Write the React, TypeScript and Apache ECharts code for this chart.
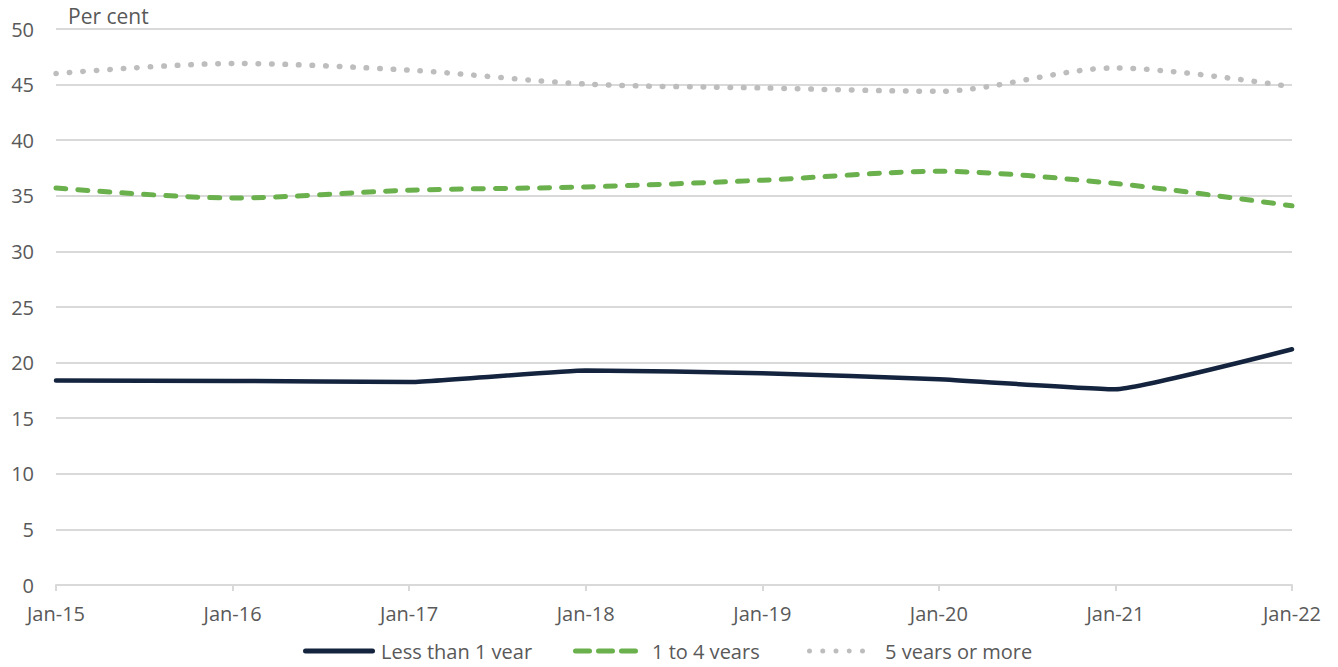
import React, { useEffect, useRef } from "react";
import * as echarts from "echarts";

const categories = ["Jan-15", "Jan-16", "Jan-17", "Jan-18", "Jan-19", "Jan-20", "Jan-21", "Jan-22"];
const lessThan1 = [18.4, 18.35, 18.25, 19.3, 19.05, 18.5, 17.6, 21.2];
const oneTo4 = [35.7, 34.8, 35.5, 35.8, 36.4, 37.2, 36.1, 34.1];
const fivePlus = [46.0, 46.9, 46.3, 45.05, 44.7, 44.4, 46.5, 44.8];
const yTicks = { min: 0, max: 50, interval: 5 };
const seriesNames = ["Less than 1 year", "1 to 4 years", "5 years or more"];

const FONT = "'Open Sans', 'Noto Sans', sans-serif";
const TEXT = "#595959";

const rr = (x0: number, x1: number) =>
  `M${x0 + 2.5},0H${x1 - 2.5}A2.5,2.5,0,0,1,${x1 - 2.5},5H${x0 + 2.5}A2.5,2.5,0,0,1,${x0 + 2.5},0Z`;
const circ = (c: number) => `M${c - 2.5},2.5A2.5,2.5,0,1,0,${c + 2.5},2.5A2.5,2.5,0,1,0,${c - 2.5},2.5Z`;

const iconSolid = "path://" + rr(0, 72);
const iconDash = "path://" + rr(0, 19) + rr(23, 42) + rr(46, 65);
const iconDot = "path://" + [2.5, 15.75, 29, 42.25, 55.5].map(circ).join("");

export default function App() {
  const ref = useRef<HTMLDivElement>(null);
  useEffect(() => {
    if (!ref.current) return;
    const chart = echarts.init(ref.current, undefined, { renderer: "svg" });
    const legendBase = {
      top: 641,
      padding: 0,
      itemHeight: 5,
      itemStyle: { borderWidth: 0 },
      selectedMode: false,
    };
    chart.setOption({
      animation: false,
      textStyle: { fontFamily: FONT },
      grid: { left: 56, right: 46, top: 29, bottom: 82 },
      graphic: [
        {
          type: "text",
          left: 68,
          top: 5,
          style: { text: "Per cent", fontFamily: FONT, fontSize: 21, fill: TEXT },
        },
      ],
      legend: [
        {
          ...legendBase,
          left: 303,
          itemWidth: 72,
          icon: iconSolid,
          data: [seriesNames[0]],
          textStyle: { color: TEXT, fontSize: 20, fontFamily: FONT, padding: [0, 0, 0, 1] },
        },
        {
          ...legendBase,
          left: 573,
          itemWidth: 65,
          icon: iconDash,
          data: [seriesNames[1]],
          textStyle: { color: TEXT, fontSize: 20, fontFamily: FONT, padding: [0, 0, 0, 9] },
        },
        {
          ...legendBase,
          left: 807,
          itemWidth: 58,
          icon: iconDot,
          data: [seriesNames[2]],
          textStyle: { color: TEXT, fontSize: 20, fontFamily: FONT, padding: [0, 0, 0, 15] },
        },
      ],
      xAxis: {
        type: "category",
        data: categories,
        boundaryGap: false,
        axisLine: { lineStyle: { color: "#d9d9d9", width: 2 } },
        axisTick: { show: true, length: 6, lineStyle: { color: "#d9d9d9", width: 2 } },
        axisLabel: { color: TEXT, fontSize: 20, margin: 18, fontFamily: FONT },
        splitLine: { show: false },
      },
      yAxis: {
        type: "value",
        min: yTicks.min,
        max: yTicks.max,
        interval: yTicks.interval,
        axisLine: { show: false },
        axisTick: { show: false },
        axisLabel: { color: TEXT, fontSize: 20, margin: 22, fontFamily: FONT },
        splitLine: { lineStyle: { color: "#d9d9d9", width: 2 } },
      },
      series: [
        {
          name: seriesNames[0],
          type: "line",
          data: lessThan1,
          smooth: 0.12,
          symbol: "none",
          color: "#14243E",
          lineStyle: { color: "#14243E", width: 4.5, cap: "round" },
        },
        {
          name: seriesNames[1],
          type: "line",
          data: oneTo4,
          smooth: 0.3,
          symbol: "none",
          color: "#6AB04C",
          lineStyle: { color: "#6AB04C", width: 5, type: [10, 12], cap: "round" },
        },
        {
          name: seriesNames[2],
          type: "line",
          data: fivePlus,
          smooth: 0.3,
          symbol: "none",
          color: "#BDBDBD",
          lineStyle: { color: "#BDBDBD", width: 5.5, type: [0.5, 13], cap: "round" },
        },
      ],
    });
    return () => chart.dispose();
  }, []);
  return <div ref={ref} style={{ width: 1338, height: 667, margin: -8 }} />;
}
